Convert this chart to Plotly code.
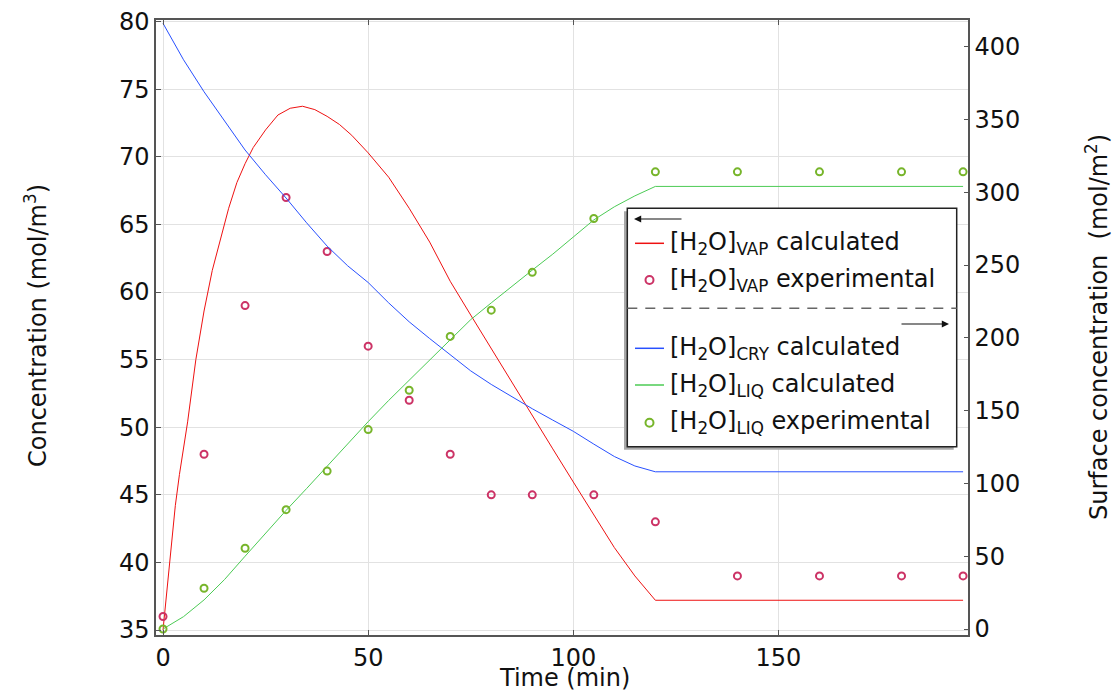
import plotly.graph_objects as go

FONT = "DejaVu Sans"
AXIS_COLOR = "#555555"
GRID_COLOR = "#e2e2e2"

# experimental points (min)
time_exp = [0, 10, 20, 30, 40, 50, 60, 70, 80, 90, 105, 120, 140, 160, 180, 195]
vap_exp = [36, 48, 59, 67, 63, 56, 52, 48, 45, 45, 45, 43, 39, 39, 39, 39]
liq_exp = [0, 28, 55.5, 82, 108.5, 137, 164, 201, 219, 245, 282, 314, 314, 314, 314, 314]

# calculated vapour concentration (left axis)
time_vap = [0, 1, 2, 3, 4, 6, 8, 10, 12, 14, 16, 18, 20, 22, 25, 28, 31, 34, 37, 40,
            43, 46, 50, 55, 60, 65, 70, 75, 80, 85, 90, 95, 100, 105, 110, 115, 120, 195]
vap_calc = [35.0, 38.2, 41.2, 44.2, 46.5, 50.4, 55.0, 58.6, 61.6, 64.0, 66.2, 68.1, 69.5,
            70.7, 72.0, 73.1, 73.6, 73.75, 73.5, 73.0, 72.4, 71.6, 70.3, 68.5, 66.2, 63.7,
            60.8, 58.3, 55.8, 53.3, 50.8, 48.4, 45.95, 43.5, 41.1, 39.0, 37.2, 37.2]

# calculated surface concentrations (right axis)
time_surf = [0, 5, 10, 15, 20, 25, 30, 35, 40, 45, 50, 55, 60, 65, 70, 75, 80, 85, 90,
             95, 100, 105, 110, 115, 120, 195]
cry_calc = [416, 391, 369, 349, 329, 312, 296, 279, 263, 249.5, 238, 224, 211, 199.5,
            188.5, 177.3, 168, 159.5, 151.3, 143.5, 135.8, 127, 118.5, 112, 108, 108]
liq_calc = [0, 8.5, 20, 34, 50, 66, 81.5, 96.5, 112, 127, 142.4, 157, 171, 185, 199,
            212.5, 224, 235.5, 246.5, 257.5, 269, 281, 290, 297.5, 304, 304]

W, H = 1117, 694
# plot area in pixels
L, R, T, B = 156, 968, 20, 635


def px(x):
    return (x - L) / (R - L)


def py(y):
    return (B - y) / (B - T)


fig = go.Figure()

fig.add_trace(go.Scatter(x=time_vap, y=vap_calc, mode='lines',
                         line=dict(color='#ee1111', width=1)))
fig.add_trace(go.Scatter(x=time_exp, y=vap_exp, mode='markers',
                         marker=dict(symbol='circle-open', size=7, color='#cc3366',
                                     line=dict(width=2))))
fig.add_trace(go.Scatter(x=time_surf, y=cry_calc, mode='lines', yaxis='y2',
                         line=dict(color='#2850ff', width=1)))
fig.add_trace(go.Scatter(x=time_surf, y=liq_calc, mode='lines', yaxis='y2',
                         line=dict(color='#4ccb55', width=1)))
fig.add_trace(go.Scatter(x=time_exp, y=liq_exp, mode='markers', yaxis='y2',
                         marker=dict(symbol='circle-open', size=7, color='#77b52b',
                                     line=dict(width=2))))

tick_font = dict(family=FONT, size=24, color='#111111')

fig.update_layout(
    width=W, height=H,
    margin=dict(l=L, r=W - R, t=T, b=H - B),
    plot_bgcolor='white', paper_bgcolor='white',
    showlegend=False,
    font=dict(family=FONT, size=24, color='#111111'),
    xaxis=dict(range=[-1.71, 196.2], dtick=50, tick0=0, ticks='inside', ticklen=5,
               tickcolor=AXIS_COLOR, showline=True, linecolor=AXIS_COLOR, linewidth=1.5,
               mirror='ticks', gridcolor=GRID_COLOR, zeroline=False, tickfont=tick_font,
               automargin=False),
    yaxis=dict(range=[34.63, 80.13], dtick=5, tick0=35, ticks='inside', ticklen=5,
               tickcolor=AXIS_COLOR, showline=True, linecolor=AXIS_COLOR, linewidth=1.5,
               gridcolor=GRID_COLOR, zeroline=False, tickfont=tick_font, automargin=False),
    yaxis2=dict(range=[-4.1, 418.3], dtick=50, tick0=0, overlaying='y', side='right',
                ticks='inside', ticklen=4, tickcolor=AXIS_COLOR, showline=True,
                linecolor=AXIS_COLOR, linewidth=1.5, showgrid=False, zeroline=False,
                tickfont=tick_font, automargin=False),
)

# axis titles
title_font = dict(family=FONT, size=24, color='#111111')
fig.add_annotation(x=px(564), y=py(H), xref='paper', yref='paper', text="Time (min)",
                   showarrow=False, xanchor='center', yanchor='bottom', font=title_font)
fig.add_annotation(x=px(36), y=py(325), xref='paper', yref='paper',
                   text="Concentration (mol/m<sup>3</sup>)", showarrow=False, textangle=-90,
                   xanchor='center', yanchor='middle', font=title_font)
fig.add_annotation(x=px(1097), y=py(327), xref='paper', yref='paper',
                   text="Surface concentration  (mol/m<sup>2</sup>)", showarrow=False,
                   textangle=-90, xanchor='center', yanchor='middle', font=title_font)


def box(x0, x1, y0, y1, **kw):
    return dict(xref='paper', yref='paper', x0=px(x0), x1=px(x1), y0=py(y0), y1=py(y1), **kw)


# legend box with shadow and separator
shapes = [
    box(624, 953.7, 211.3, 449.7, type='rect', fillcolor='#a8a8a8', line=dict(width=0)),
    box(627.3, 956.7, 208.3, 446.7, type='rect', fillcolor='white',
        line=dict(color='#222222', width=1.5)),
    box(627.3, 956.7, 308.3, 308.3, type='line',
        line=dict(color='#666666', width=1.5, dash='10px,8px')),
]

legend_rows = [
    (243.3, 'line', '#ee1111', "[H<sub>2</sub>O]<sub>VAP</sub> calculated"),
    (280.0, 'marker', '#cc3366', "[H<sub>2</sub>O]<sub>VAP</sub> experimental"),
    (348.3, 'line', '#2850ff', "[H<sub>2</sub>O]<sub>CRY</sub> calculated"),
    (385.0, 'line', '#4ccb55', "[H<sub>2</sub>O]<sub>LIQ</sub> calculated"),
    (422.7, 'marker', '#77b52b', "[H<sub>2</sub>O]<sub>LIQ</sub> experimental"),
]
for y, kind, color, text in legend_rows:
    if kind == 'line':
        shapes.append(box(635, 664, y, y, type='line', line=dict(color=color, width=1.5)))
    else:
        shapes.append(box(645.5, 653.5, y - 4, y + 4, type='circle',
                          line=dict(color=color, width=2)))
    fig.add_annotation(x=px(668), y=py(y), xref='paper', yref='paper', text=text,
                       showarrow=False, xanchor='left', yanchor='middle',
                       font=dict(family=FONT, size=24, color='#111111'))

fig.update_layout(shapes=shapes)

# axis arrows in the legend
fig.add_annotation(x=px(634), y=py(219), xref='paper', yref='paper', text='',
                   showarrow=True, ax=49, ay=0, arrowhead=2, arrowsize=1.2,
                   arrowwidth=1.2, arrowcolor='#111111')
fig.add_annotation(x=px(949), y=py(324), xref='paper', yref='paper', text='',
                   showarrow=True, ax=-49, ay=0, arrowhead=2, arrowsize=1.2,
                   arrowwidth=1.2, arrowcolor='#111111')

# drop the default page margin so the figure fills the window exactly
fig.write_html("out.html", config={'displayModeBar': False},
               post_script="document.body.style.margin = '0px';")
